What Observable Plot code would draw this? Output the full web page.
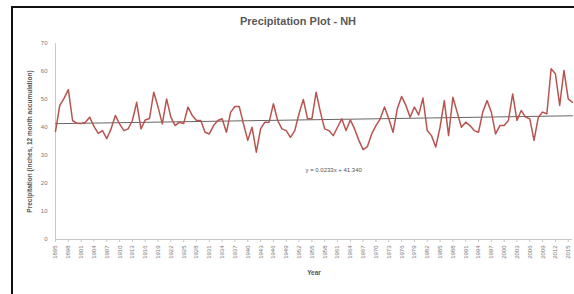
<!DOCTYPE html>
<html>
<head>
<meta charset="utf-8">
<script src="https://cdn.jsdelivr.net/npm/d3@7"></script>
<script src="https://cdn.jsdelivr.net/npm/@observablehq/plot@0.6"></script>
<style>
  html, body { margin: 0; padding: 0; background: #fff; }
  #wrap { position: relative; width: 574px; height: 294px; overflow: hidden; font-family: "Liberation Sans", Arial, sans-serif; }
  #frame { position: absolute; left: 11px; top: 6px; width: 600px; height: 320px; border: 2px solid #111; box-sizing: border-box; }
  #title { position: absolute; left: 0; width: 596px; top: 15px; text-align: center; font-weight: bold; font-size: 11px; color: #595959; }
  #chart { position: absolute; left: 0; top: 0; }
</style>
</head>
<body>
<div id="wrap">
  <div id="frame"></div>
  <div id="title">Precipitation Plot - NH</div>
  <div id="chart"></div>
</div>
<script>
const startYear = 1895;
const precip = [
  38.6, 47.9, 50.4, 53.5, 42.5, 41.5, 41.4, 41.9, 43.7, 40.4, 37.9, 38.9, 36.0, 39.5, 44.3, 41.3, 38.9, 39.5, 42.5, 49.0, 39.5, 42.7, 43.2, 52.6, 47.3, 41.3, 50.2, 43.7,
  40.7, 41.9, 41.4, 47.3, 44.3, 42.5, 42.5, 38.3, 37.7, 40.7, 42.5, 43.1, 38.3, 45.5, 47.5, 47.5, 41.3, 35.4, 40.1, 31.2, 39.5, 41.9, 41.9, 48.5, 42.5, 39.5, 38.9, 36.5, 38.9,
  45.0, 50.0, 43.1,
  43.1, 52.6, 45.5, 39.5, 38.9, 37.1, 40.1, 43.1, 38.9, 42.7, 39.5, 35.4, 32.1, 33.2, 37.7, 40.7, 43.1, 47.3, 43.1, 38.3, 46.7, 51.1, 47.9, 43.7, 47.3,
  44.5, 50.5,
  38.9, 37.1, 33.0, 40.1, 49.6, 37.1, 50.8, 45.5, 40.1, 41.9, 40.7, 38.9, 38.3, 45.5, 49.6, 45.5, 37.7, 40.7, 40.7, 42.5, 52.0, 42.5, 46.1, 43.7, 43.1, 35.4, 43.7, 45.5, 44.9, 61.0, 59.2, 47.9, 60.4, 50.2, 49.0
];
const years = precip.map((_, i) => startYear + i);
const endYear = years[years.length - 1];
const trendSlope = 0.0233;
const trendIntercept = 41.340;
const trendLabel = "y = 0.0233x + 41.340";
const yTicks = [0, 10, 20, 30, 40, 50, 60, 70];
const xTicks = years.filter((y, i) => i % 3 === 0);
const yLabel = "Precipitation (inches, 12 month accumulation)";
const xLabel = "Year";

const rows = years.map((y, i) => ({year: y, value: precip[i]}));
const trend = [
  {year: startYear, value: trendIntercept + trendSlope * 1},
  {year: endYear, value: trendIntercept + trendSlope * years.length}
];

const chart = Plot.plot({
  width: 574,
  height: 294,
  marginLeft: 55,
  marginRight: 2,
  marginTop: 43,
  marginBottom: 55,
  style: {background: "transparent", fontFamily: "Liberation Sans, Arial, sans-serif"},
  x: {domain: [startYear, endYear], axis: null},
  y: {domain: [0, 70], axis: null},
  marks: [
    Plot.ruleX([startYear], {stroke: "#c8c8c8", strokeWidth: 1}),
    Plot.ruleY([0], {stroke: "#c8c8c8", strokeWidth: 1}),
    Plot.axisY({ticks: yTicks, label: null, tickSize: 0, tickPadding: 8, fontSize: 6, fill: "#777", tickFormat: d => String(d)}),
    Plot.axisX({ticks: xTicks, label: null, tickSize: 3, stroke: "#c8c8c8", tickRotate: -90, tickPadding: 3, fontSize: 6, fill: "#777", tickFormat: d => String(d)}),
    Plot.line(trend, {x: "year", y: "value", stroke: "#666", strokeWidth: 1}),
    Plot.line(rows, {x: "year", y: "value", stroke: "#b85450", strokeWidth: 1.5}),
    Plot.text([trendLabel], {frameAnchor: "top-left", dx: 250, dy: 124, text: d => d, fontSize: 6, fill: "#555", textAnchor: "start"}),
    Plot.text([yLabel], {frameAnchor: "left", dx: -26, dy: 0, text: d => d, rotate: -90, fontSize: 6.5, fontWeight: "bold", fill: "#555", textAnchor: "middle"}),
    Plot.text([xLabel], {frameAnchor: "bottom", dx: 0, dy: 35, text: d => d, fontSize: 6.5, fontWeight: "bold", fill: "#555", textAnchor: "middle"})
  ]
});
document.getElementById("chart").appendChild(chart);
</script>
</body>
</html>
